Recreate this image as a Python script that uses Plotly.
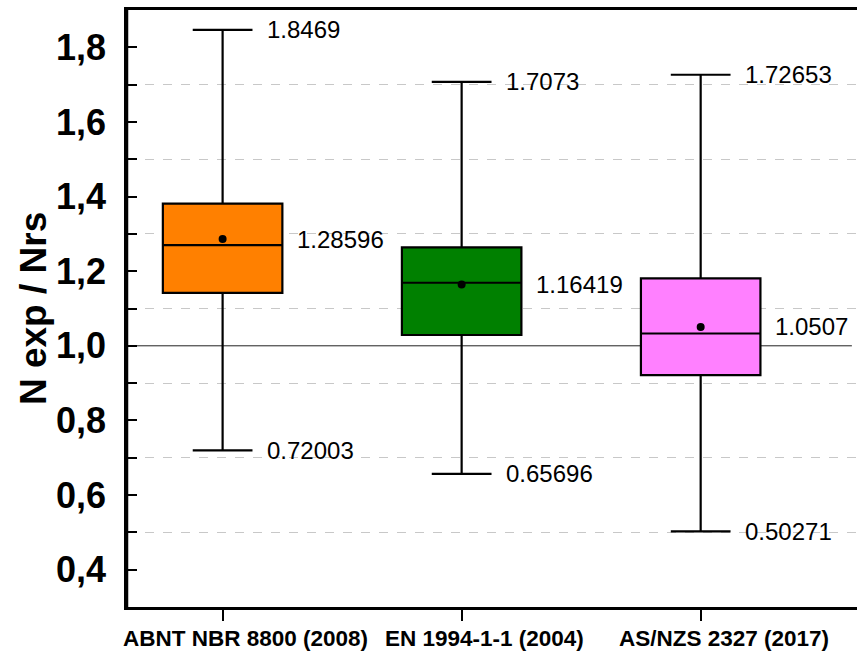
import plotly.graph_objects as go

# Box statistics per design code
codes = ["ABNT NBR 8800 (2008)", "EN 1994-1-1 (2004)", "AS/NZS 2327 (2017)"]
minimum = [0.72003, 0.65696, 0.50271]
q1 = [1.142, 1.029, 0.9215]
median = [1.270, 1.169, 1.033]
q3 = [1.381, 1.264, 1.181]
maximum = [1.8469, 1.7073, 1.72653]
mean = [1.28596, 1.16419, 1.0507]
colors = ["#FF8000", "#008000", "#FF80FF"]

ytick_vals = [0.4, 0.6, 0.8, 1.0, 1.2, 1.4, 1.6, 1.8]
ytick_text = ["0,4", "0,6", "0,8", "1,0", "1,2", "1,4", "1,6", "1,8"]

FONT = "Arial, 'Liberation Sans', sans-serif"

fig = go.Figure()

for i, code in enumerate(codes):
    fig.add_trace(go.Box(
        x=[code], q1=[q1[i]], median=[median[i]], q3=[q3[i]],
        lowerfence=[minimum[i]], upperfence=[maximum[i]],
        fillcolor=colors[i], line=dict(color="black", width=2.2),
        width=0.5, whiskerwidth=0.5, boxpoints=False, showlegend=False,
    ))

fig.add_trace(go.Scatter(
    x=codes, y=mean, mode="markers",
    marker=dict(color="black", size=8), showlegend=False,
))

# Value labels: max and min beside the caps, mean beside the box
label_font = dict(family=FONT, size=24, color="black")
for i, code in enumerate(codes):
    for val, shift in ((maximum[i], 42), (minimum[i], 42), (mean[i], 72)):
        fig.add_annotation(
            x=code, y=val, text=f"{val:g}", showarrow=False,
            xanchor="left", yanchor="middle", xshift=shift,
            font=label_font,
        )

# Category labels sit slightly right of their tick marks
for code in codes:
    fig.add_annotation(
        x=code, xref="x", y=0, yref="paper", text=f"<b>{code}</b>",
        showarrow=False, xanchor="center", yanchor="middle",
        xshift=23, yshift=-31,
        font=dict(family=FONT, size=22.5, color="black"),
    )

# Reference line at unity
fig.add_shape(type="line", xref="paper", yref="y", x0=0, x1=0.993, y0=1.0, y1=1.0,
              line=dict(color="#222222", width=1), layer="below")

# Left frame edge
fig.add_shape(type="line", xref="paper", yref="paper", x0=0, x1=0, y0=0, y1=1,
              line=dict(color="black", width=2.5), layer="above")

fig.add_annotation(
    xref="paper", yref="paper", x=-0.128, y=0.5, text="<b>N exp / Nrs</b>",
    textangle=-90, showarrow=False, xanchor="center", yanchor="middle",
    font=dict(family=FONT, size=37, color="black"),
)

fig.update_layout(
    width=857, height=651,
    margin=dict(l=127, r=0, t=10, b=44),
    paper_bgcolor="white", plot_bgcolor="white",
    font=dict(family=FONT, color="black"),
    boxmode="overlay",
)

fig.update_xaxes(
    type="category", categoryorder="array", categoryarray=codes,
    range=[-0.4, 2.654],
    showline=True, linecolor="black", linewidth=2.5, mirror=True,
    ticks="outside", ticklen=11, tickwidth=2, tickcolor="black",
    showticklabels=False,
    showgrid=False, zeroline=False,
)

fig.update_yaxes(
    range=[0.3, 1.9],
    tickvals=ytick_vals, ticktext=ytick_text,
    showline=True, linecolor="black", linewidth=2.5, mirror=False,
    ticks="inside", ticklen=10, tickwidth=2, tickcolor="black",
    ticklabelstandoff=11,
    tickfont=dict(family=FONT, size=36, color="black", weight="bold"),
    showgrid=False, zeroline=False,
    minor=dict(tick0=0.3, dtick=0.2, ticks="inside", ticklen=10, tickwidth=2,
               tickcolor="black", showgrid=True, gridcolor="#C8C8C8",
               griddash="dash", gridwidth=1),
)

fig.write_html("out.html")
